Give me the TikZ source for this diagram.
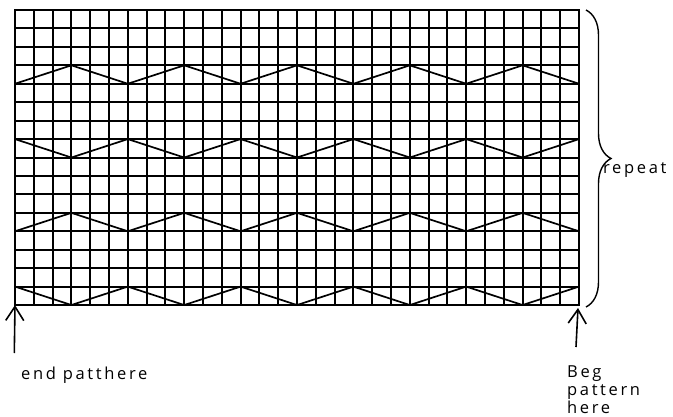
\documentclass[tikz,border=0pt]{standalone}
\usepackage{fontspec}
\setmainfont{Open Sans}[LetterSpace=16]
\usepackage{tikz}
\usetikzlibrary{arrows.meta, decorations.pathreplacing}

\begin{document}
\begin{tikzpicture}[x=1pt, y=-1pt, every node/.style={font=\fontsize{16.5}{18}\selectfont, inner sep=0pt}]
  \useasboundingbox (0,0) rectangle (673,416);
  \tikzset{
    gridline/.style={line width=2pt, line cap=rect},
    zigline/.style={line width=1.7pt, line join=round},
    pointer/.style={line width=1.6pt, -{Straight Barb[length=14pt, width=18pt, line width=1.6pt]}}
  }

  % Chart grid: 30 stitches by 16 rows
  \begin{scope}[shift={(15,10)}, x=18.8pt, y=-18.44pt]
    \foreach \c in {0,...,30}
      \draw[gridline] (\c,0) -- (\c,16);
    \foreach \r in {0,...,16}
      \draw[gridline] (0,\r) -- (30,\r);

    % Zigzag rows (peak on the 3rd stitch)
    \foreach \r in {3,11}
      \draw[zigline] (0,\r+1) \foreach \k in {0,...,4} { -- (6*\k+3,\r) -- (6*\k+6,\r+1) };
    % Zigzag rows (peak on the edge)
    \foreach \r in {7,15}
      \draw[zigline] (0,\r) \foreach \k in {0,...,4} { -- (6*\k+3,\r+1) -- (6*\k+6,\r) };

    \coordinate (endcorner) at (0,16);
    \coordinate (begcorner) at (30,16);
  \end{scope}

  % Repeat brace
  \coordinate (bracetop) at (586,10);
  \coordinate (bracebot) at (586,307);
  \draw[line width=1.4pt, decorate, decoration={brace, amplitude=25pt}] (bracetop) -- (bracebot);
  \node[anchor=base west] (repeat) at (603,173) {repeat};

  % Pointers to the chart corners
  \coordinate (endtail) at (14.3,353);
  \coordinate (begtail) at (576,347);
  \draw[pointer] (endtail) -- (endcorner);
  \draw[pointer] (begtail) -- ([xshift=-1pt,yshift=-3pt]begcorner);

  % Labels
  \node[anchor=base west] (endlabel) at (21,379) {end patthere};
  \node[anchor=north west, align=left] (beglabel) at (567,365.6) {Beg\\pattern\\here};
\end{tikzpicture}
\end{document}
